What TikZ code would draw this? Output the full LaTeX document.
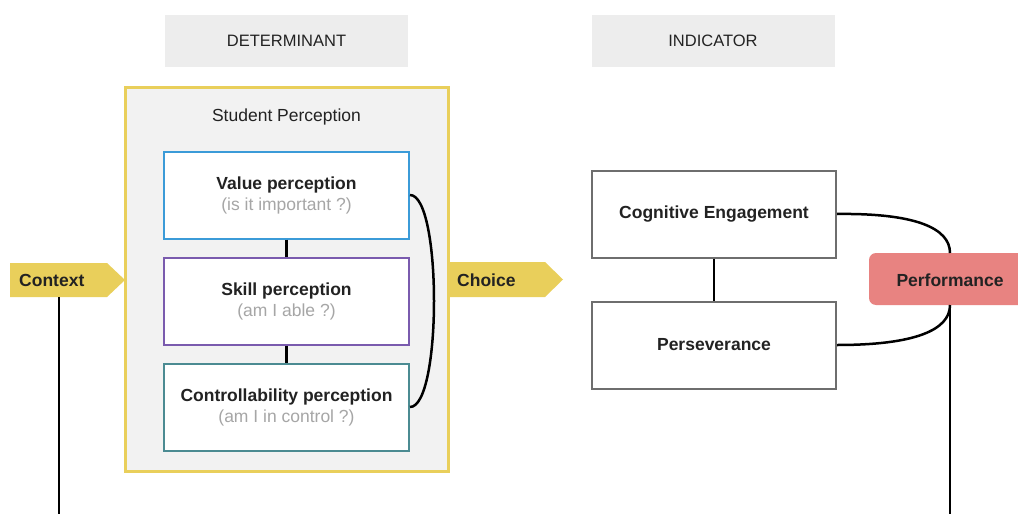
\documentclass[tikz,border=0pt]{standalone}
\usepackage{fontspec}
\setmainfont{Liberation Sans}
\definecolor{yel}{HTML}{E9CF5B}
\definecolor{framefill}{HTML}{F2F2F2}
\definecolor{headfill}{HTML}{EDEDED}
\definecolor{blu}{HTML}{3B9BD8}
\definecolor{pur}{HTML}{7A5BAE}
\definecolor{tea}{HTML}{4B8B92}
\definecolor{gbord}{HTML}{6E6E6E}
\definecolor{perf}{HTML}{E88381}
\definecolor{subg}{HTML}{A6A6A6}
\definecolor{txt}{HTML}{222222}
\begin{document}
\begin{tikzpicture}[x=1pt,y=-1pt,
  header/.style={fill=headfill, minimum width=243pt, minimum height=52pt, inner sep=0pt, text=txt, font=\fontsize{16.5}{20}\selectfont},
  percbox/.style={draw=#1, line width=2pt, fill=white, minimum width=245pt, minimum height=87pt, inner sep=0pt, align=center, text=txt, font=\fontsize{17.5}{21}\selectfont},
  indbox/.style={draw=gbord, line width=2pt, fill=white, minimum width=244pt, minimum height=87pt, inner sep=0pt, align=center, text=txt, font=\bfseries\fontsize{17.5}{21}\selectfont},
  lbl/.style={text=txt, inner sep=0pt, font=\bfseries\fontsize{17.5}{21}\selectfont},
  conn/.style={line width=2.5pt, black},
]
\useasboundingbox (0,0) rectangle (1018,514);
% headers
\node[header] (det) at (286.5,41) {DETERMINANT};
\node[header] (ind) at (713,41) {INDICATOR};
% frame
\node[draw=yel, line width=3pt, fill=framefill, minimum width=323pt, minimum height=384pt, inner sep=0pt] (frame) at (286.5,279) {};
\node[text=txt, font=\fontsize{17.5}{21}\selectfont, inner sep=0pt] (sp) at (286.5,117) {Student Perception};
% perception boxes
\newcommand{\subline}[1]{{\color{subg}#1}}
\node[percbox=blu] (val) at (286.5,195) {\textbf{Value perception}\\\subline{(is it important ?)}};
\node[percbox=pur] (ski) at (286.5,301) {\textbf{Skill perception}\\\subline{(am I able ?)}};
\node[percbox=tea] (con) at (286.5,407) {\textbf{Controllability perception}\\\subline{(am I in control ?)}};
\draw[conn] (val.south) -- (ski.north);
\draw[conn] (ski.south) -- (con.north);
\draw[conn] (val.east) .. controls +(32,0) and +(32,0) .. (con.east);
% context arrow
\fill[yel] (10,263) -- (107,263) -- (125,280) -- (107,297) -- (10,297) -- cycle;
\node[lbl, anchor=west] (ctx) at (19,280) {Context};
\coordinate (ctxb) at (59,297);
\coordinate (ctxe) at (59,514);
\draw[conn] (ctxb) -- (ctxe);
% choice arrow
\fill[yel] (448,262) -- (545,262) -- (563,279.5) -- (545,297) -- (448,297) -- cycle;
\node[lbl, anchor=west] (cho) at (457,280) {Choice};
% indicator boxes
\node[indbox] (cog) at (714,214) {Cognitive Engagement};
\node[indbox] (per) at (714,345) {Perseverance};
\draw[conn] (cog.south) -- (per.north);
% performance
\node[fill=perf, rounded corners=7pt, minimum width=165pt, minimum height=52pt, inner sep=0pt] (perfbox) at (951.5,279) {};
\node[lbl] (perft) at (950,280) {Performance};
\coordinate (ptop) at (950,253);
\coordinate (pbot) at (950,305);
\coordinate (pend) at (950,514);
\draw[conn] (cog.east) .. controls (915,213) and (950,228) .. (ptop);
\draw[conn] (per.east) .. controls (915,345) and (950,330) .. (pbot);
\draw[conn] (pbot) -- (pend);
\end{tikzpicture}
\end{document}
